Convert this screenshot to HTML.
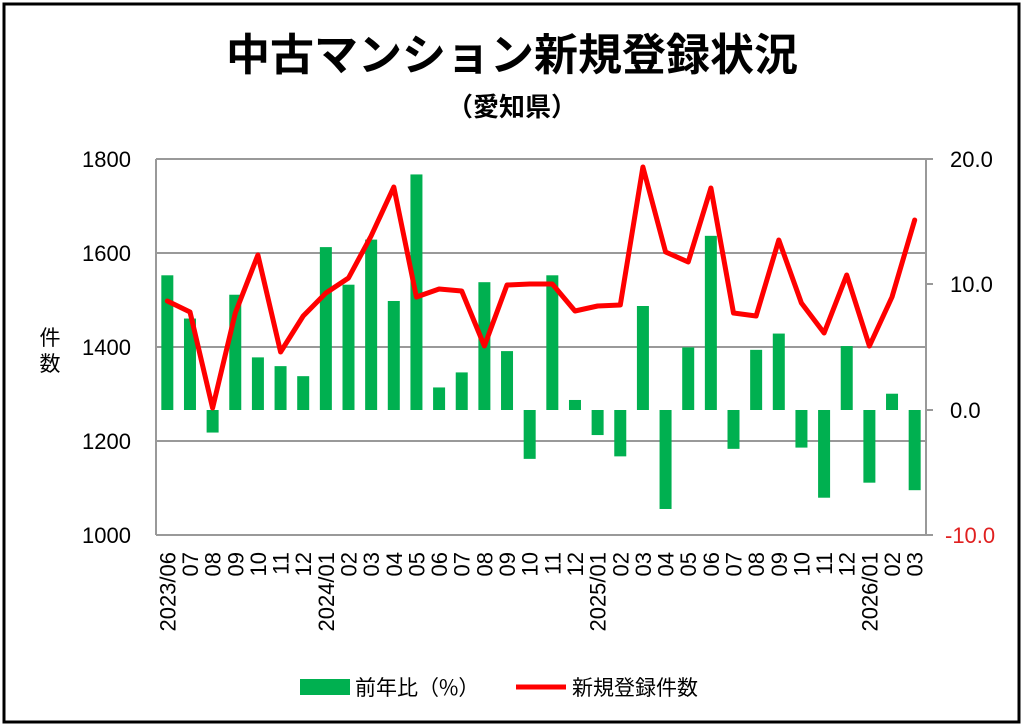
<!DOCTYPE html>
<html><head><meta charset="utf-8"><style>
body{margin:0;background:#fff}
svg{display:block;font-family:"Liberation Sans","Noto Sans CJK JP",sans-serif}
</style></head><body>
<svg width="1024" height="727" viewBox="0 0 1024 727">
<rect x="0" y="0" width="1024" height="727" fill="#fff"/>
<rect x="4" y="4" width="1015" height="718" fill="none" stroke="#000" stroke-width="3"/>
<text x="512" y="70" font-size="44" font-weight="bold" text-anchor="middle" font-family="'Noto Sans CJK JP',sans-serif">中古マンション新規登録状況</text>
<text x="512" y="116" font-size="26" font-weight="bold" text-anchor="middle" font-family="'Noto Sans CJK JP',sans-serif">（愛知県）</text>
<g stroke="#999" stroke-width="2">
<line x1="156" y1="159" x2="926" y2="159"/>
<line x1="156" y1="253" x2="926" y2="253"/>
<line x1="156" y1="347" x2="926" y2="347"/>
<line x1="156" y1="441" x2="926" y2="441"/>
<line x1="156" y1="535" x2="926" y2="535"/>
<line x1="156" y1="159" x2="156" y2="535"/>
<line x1="926" y1="159" x2="926" y2="535"/>
<line x1="926" y1="159" x2="933" y2="159"/>
<line x1="926" y1="284" x2="933" y2="284"/>
<line x1="926" y1="410" x2="933" y2="410"/>
<line x1="926" y1="535" x2="933" y2="535"/>
</g>
<g font-size="22" text-anchor="end" fill="#000">
<text x="131" y="167">1800</text><text x="131" y="261">1600</text><text x="131" y="355">1400</text><text x="131" y="449">1200</text><text x="131" y="543">1000</text>
</g>
<g font-size="22" fill="#000">
<text x="950" y="167">20.0</text><text x="950" y="292">10.0</text><text x="950" y="418">0.0</text><text x="945" y="543" fill="#e02020">-10.0</text>
</g>
<text x="50" y="345" font-size="21" text-anchor="middle" font-family="'Noto Sans CJK JP',sans-serif">件</text>
<text x="50" y="371" font-size="21" text-anchor="middle" font-family="'Noto Sans CJK JP',sans-serif">数</text>
<g id="bars" fill="#00b050"></g>
<polyline id="line" fill="none" stroke="#f00" stroke-width="5" stroke-linejoin="round" stroke-linecap="round"/>
<g id="xl" font-size="22"></g>
<rect x="300" y="679" width="50" height="16" fill="#00b050"/>
<text x="355" y="695" font-size="21" font-family="'Noto Sans CJK JP',sans-serif">前年比（%）</text>
<line x1="516" y1="687" x2="566" y2="687" stroke="#f00" stroke-width="5"/>
<text x="572" y="695" font-size="21" font-family="'Noto Sans CJK JP',sans-serif">新規登録件数</text>
</svg>
<script>
var ns="http://www.w3.org/2000/svg";
var v=[10.75,7.3,-1.8,9.2,4.2,3.5,2.7,13.0,10.0,13.6,8.7,18.8,1.8,3.0,10.2,4.7,-3.9,10.75,0.8,-2.0,-3.7,8.3,-7.9,5.0,13.9,-3.1,4.8,6.1,-3.0,-7.0,5.1,-5.8,1.3,-6.4];
var ly=[301,312,408,313,255,352,316,293,278,236,187,297,289,291,346,285,284,284,311,306,305,167,252,262,188,313,316,240,303,333,275,346,297,220];
var lab=["2023/06","07","08","09","10","11","12","2024/01","02","03","04","05","06","07","08","09","10","11","12","2025/01","02","03","04","05","06","07","08","09","10","11","12","2026/01","02","03"];
var w=(926-156)/34,z=410,s=12.53,pts=[];
var B=document.getElementById("bars"),X=document.getElementById("xl");
for(var i=0;i<34;i++){
 var cx=156+w*(i+0.5);
 var r=document.createElementNS(ns,"rect");
 var h=Math.abs(v[i])*s;
 r.setAttribute("x",cx-6);r.setAttribute("width",12);
 r.setAttribute("y",v[i]>0?z-h:z);r.setAttribute("height",h);
 B.appendChild(r);
 pts.push(cx.toFixed(1)+","+ly[i]);
 var t=document.createElementNS(ns,"text");
 t.setAttribute("transform","translate("+(cx+8)+",552) rotate(-90)");
 t.setAttribute("text-anchor","end");
 t.textContent=lab[i];X.appendChild(t);
}
document.getElementById("line").setAttribute("points",pts.join(" "));
</script>
</body></html>
